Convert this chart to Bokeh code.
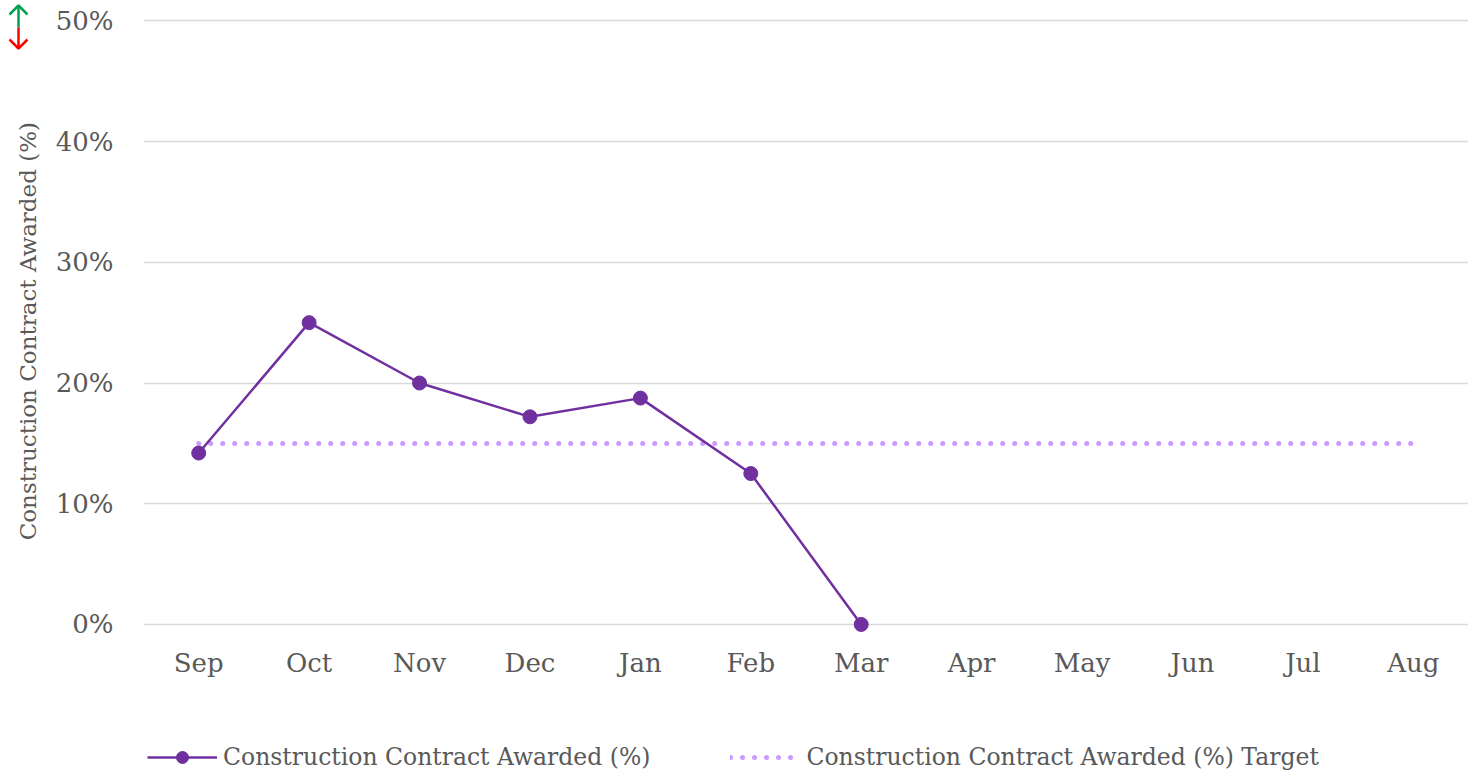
from bokeh.plotting import figure
from bokeh.layouts import column, row
from bokeh.models import FixedTicker, Legend, LegendItem, Range1d
from bokeh.embed import file_html
from bokeh.resources import INLINE

months = ["Sep", "Oct", "Nov", "Dec", "Jan", "Feb", "Mar", "Apr", "May", "Jun", "Jul", "Aug"]
actual_months = ["Sep", "Oct", "Nov", "Dec", "Jan", "Feb", "Mar"]
actual_values = [14.2, 25.0, 20.0, 17.2, 18.75, 12.5, 0.0]
target_values = [15, 15, 15, 15, 15, 15, 15, 15, 15, 15, 15, 15]
y_ticks = [0, 10, 20, 30, 40, 50]
y_tick_labels = ["0%", "10%", "20%", "30%", "40%", "50%"]
series_labels = ["Construction Contract Awarded (%)", "Construction Contract Awarded (%) Target"]

FONT = "DejaVu Serif"
TXT = "#595959"
PURPLE = "#7030a0"
LILAC = "#cc99ff"

# ---------------- main chart ----------------
p = figure(x_range=months, y_range=Range1d(-1.0, 50.2), width=1468, height=700,
           output_backend="svg", toolbar_location=None,
           min_border_left=143, min_border_right=0, min_border_top=18, min_border_bottom=64)
p.outline_line_color = None
p.xgrid.grid_line_color = None
p.ygrid.grid_line_color = "#d9d9d9"
p.ygrid.grid_line_width = 1.5
p.x_range.range_padding = 0

p.yaxis.ticker = FixedTicker(ticks=y_ticks)
p.yaxis.major_label_overrides = {t: l for t, l in zip(y_ticks, y_tick_labels)}
for ax in (p.xaxis, p.yaxis):
    ax.axis_line_color = None
    ax.major_tick_line_color = None
    ax.minor_tick_line_color = None
    ax.major_label_text_font = FONT
    ax.major_label_text_color = TXT
    ax.major_label_text_font_size = "26px"
p.yaxis.major_label_standoff = 24
p.xaxis.major_label_standoff = 5
p.yaxis.axis_label = "Construction Contract  Awarded (%)"
p.yaxis.axis_label_text_font = FONT
p.yaxis.axis_label_text_font_size = "23px"
p.yaxis.axis_label_text_font_style = "normal"
p.yaxis.axis_label_text_color = TXT
p.yaxis.axis_label_standoff = 12

p.line(months, target_values, line_color=LILAC, line_width=5,
       line_dash="0 12", line_cap="round")
p.line(actual_months, actual_values, line_color=PURPLE, line_width=2.5)
p.scatter(actual_months, actual_values, size=14, fill_color=PURPLE, line_color=PURPLE)

# ---------------- legend strip (series drawn off-range, only their legend glyphs show) ----------------
lf = figure(width=1468, height=73, x_range=months, y_range=Range1d(100, 101),
            output_backend="svg", toolbar_location=None,
            x_axis_location=None, y_axis_location=None,
            min_border=0, outline_line_color=None)
lf.grid.visible = False
g_tgt = lf.line(months, target_values, line_color=LILAC, line_width=5,
                line_dash="0 12", line_cap="round")
g_line = lf.line(actual_months, actual_values, line_color=PURPLE, line_width=2.5)
g_pts = lf.scatter(actual_months, actual_values, fill_color=PURPLE, line_color=PURPLE)
legend = Legend(items=[
    LegendItem(label=series_labels[0], renderers=[g_line, g_pts]),
    LegendItem(label=series_labels[1], renderers=[g_tgt]),
], orientation="horizontal", location=(4, 1))
legend.label_text_font = FONT
legend.label_text_font_size = "23.5px"
legend.label_text_color = TXT
legend.glyph_width = 70
legend.glyph_height = 30
legend.label_height = 30
legend.label_standoff = 6
legend.spacing = 80
legend.padding = 0
legend.margin = 0
legend.border_line_color = None
legend.background_fill_alpha = 0
lf.add_layout(legend, "center")

# ---------------- up/down indicator icon, overlaid at top-left ----------------
icon = figure(width=36, height=50, x_range=(0, 36), y_range=(0, 50),
              output_backend="svg", toolbar_location=None,
              x_axis_location=None, y_axis_location=None,
              min_border=0, outline_line_color=None,
              background_fill_alpha=0, border_fill_alpha=0)
icon.grid.visible = False
icon.segment(x0=[18, 18], y0=[23, 23], x1=[18, 18], y1=[45, 2],
             line_color=["#00a050", "#ff0000"], line_width=2.5)
icon.multi_line(xs=[[9, 18, 27], [9, 18, 27]], ys=[[36, 45, 36], [11, 2, 11]],
                line_color=["#00a050", "#ff0000"], line_width=2.5)
icon_box = row(icon, width=36, height=50)
icon_box.styles = {"position": "absolute", "left": "0px", "top": "0px", "z-index": "2"}

layout = column(p, lf, icon_box)
open("out.html", "w").write(file_html(layout, INLINE))
